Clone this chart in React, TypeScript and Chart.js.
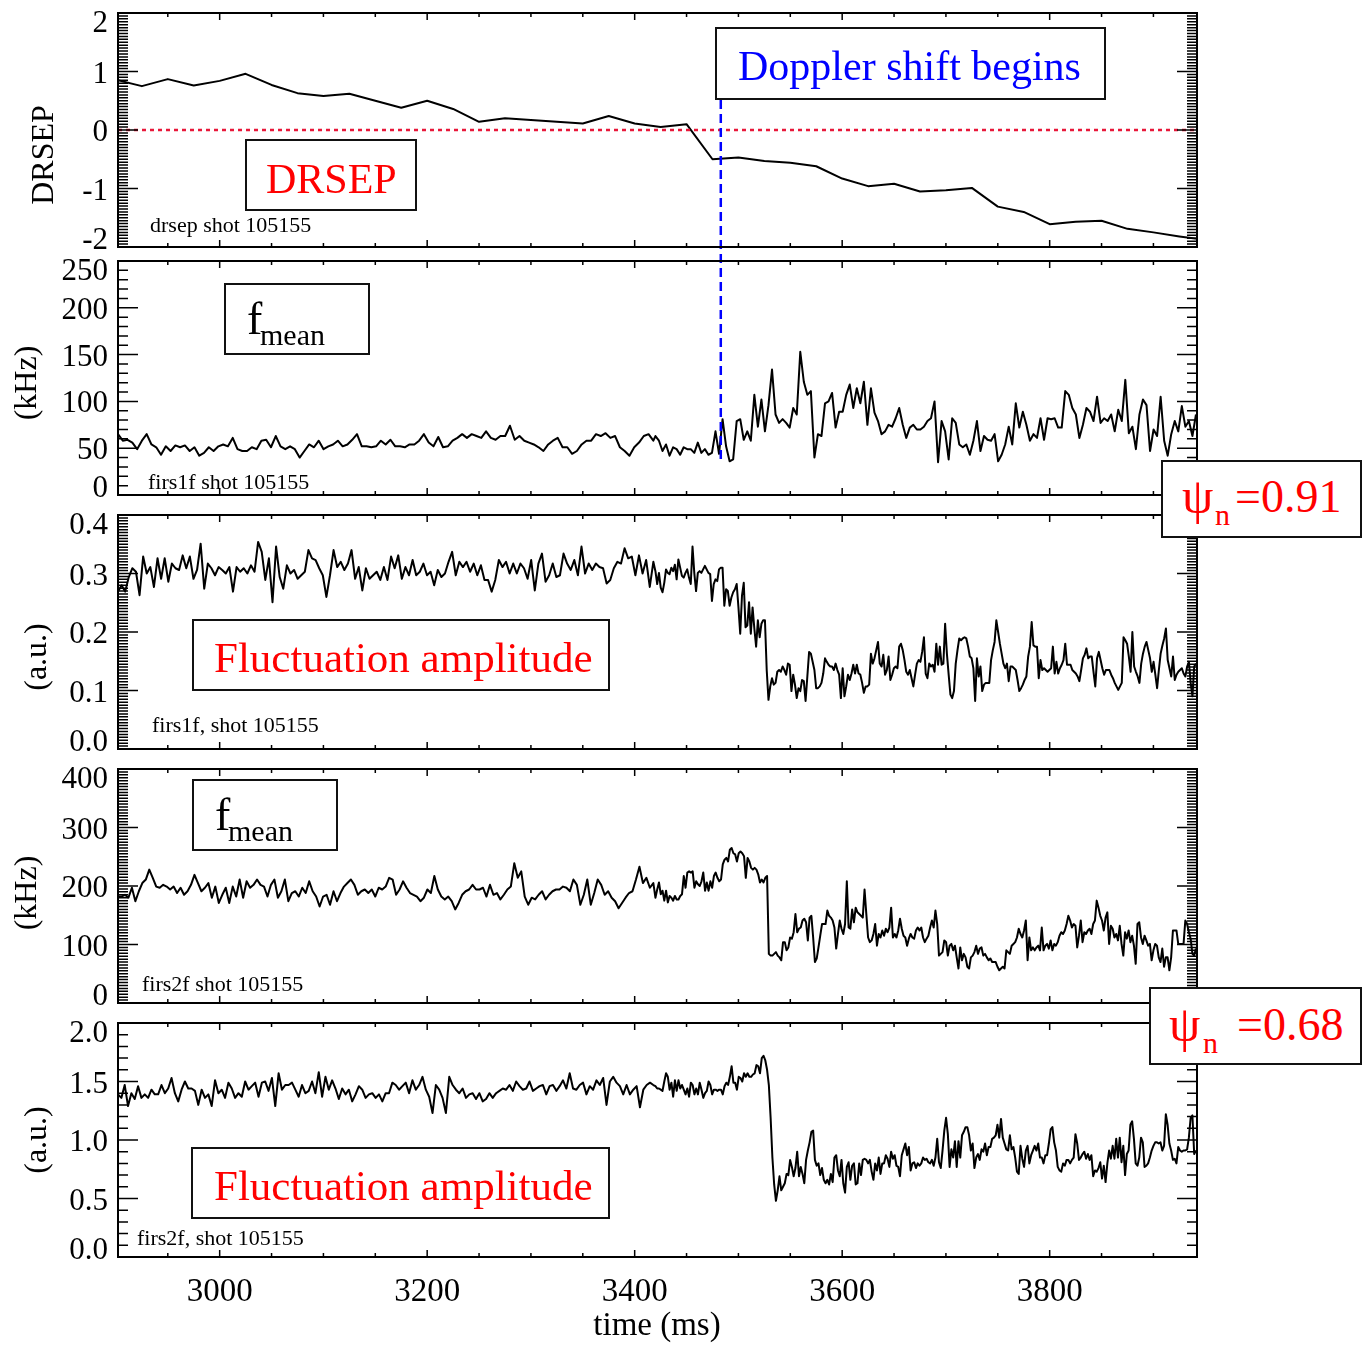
import React, { useEffect, useRef } from 'react';
import { Chart, registerables } from 'chart.js';

Chart.register(...registerables);

const FONT = '"Liberation Serif", "Times New Roman", Times, serif';

// ---- time axis (ms) ----
const TIME_MIN = 2902;
const TIME_MAX = 3942;
const X_MAJOR_TICKS = [3000, 3200, 3400, 3600, 3800];
const X_TICK_LABELS = ['3000', '3200', '3400', '3600', '3800'];
const X_MINOR_STEP = 50;
const X_TITLE = 'time (ms)';
const DOPPLER_TIME = 3483;

// evenly sampled signal segments (ms): before / after 3420 ms
const SEG_BEFORE = [2902, 3418];
const SEG_AFTER = [3420, 3941];

// ---- DRSEP ----
const drsepTime = [2900, 2925, 2950, 2975, 3000, 3025, 3050, 3075, 3100, 3125, 3150, 3175, 3200, 3225, 3250, 3275, 3300, 3325, 3350, 3375, 3400, 3425, 3450, 3475, 3500, 3525, 3550, 3575, 3600, 3625, 3650, 3675, 3700, 3725, 3750, 3775, 3800, 3825, 3850, 3875, 3900, 3925, 3950];
const drsepValue = [0.86, 0.75, 0.87, 0.76, 0.84, 0.96, 0.77, 0.63, 0.58, 0.62, 0.5, 0.38, 0.5, 0.36, 0.14, 0.2, 0.17, 0.14, 0.11, 0.24, 0.11, 0.05, 0.1, -0.5, -0.47, -0.53, -0.56, -0.62, -0.83, -0.96, -0.92, -1.05, -1.03, -0.99, -1.31, -1.4, -1.61, -1.57, -1.55, -1.69, -1.75, -1.82, -1.88];

// ---- firs1f mean frequency (kHz) ----
const firs1fMeanBefore = [65, 58, 59, 56, 49, 58, 65, 54, 51, 43, 52, 47, 53, 51, 53, 47, 51, 42, 45, 51, 47, 52, 54, 52, 61, 49, 47, 47, 51, 49, 58, 59, 51, 63, 52, 49, 52, 49, 40, 47, 54, 51, 58, 49, 52, 54, 58, 52, 54, 59, 65, 52, 52, 51, 52, 58, 54, 59, 52, 52, 51, 54, 54, 58, 65, 56, 52, 62, 51, 52, 58, 61, 65, 61, 65, 63, 61, 68, 61, 59, 63, 63, 74, 59, 63, 58, 56, 54, 51, 47, 54, 58, 61, 51, 51, 44, 47, 54, 58, 58, 65, 63, 66, 61, 63, 51, 47, 42, 51, 56, 63, 65, 58];
const firs1fMeanAfter = [63, 58, 47, 54, 42, 51, 49, 43, 51, 49, 49, 45, 56, 45, 49, 43, 45, 68, 44, 81, 52, 36, 38, 79, 81, 59, 68, 58, 107, 73, 102, 68, 96, 134, 86, 77, 81, 77, 72, 93, 86, 153, 121, 107, 111, 40, 65, 63, 98, 100, 109, 72, 89, 89, 107, 118, 93, 114, 98, 121, 75, 114, 88, 79, 65, 68, 75, 73, 82, 93, 75, 61, 72, 75, 70, 70, 73, 79, 82, 100, 35, 79, 68, 38, 82, 77, 54, 51, 54, 43, 58, 79, 47, 63, 59, 58, 65, 36, 43, 54, 73, 54, 98, 72, 89, 75, 58, 65, 61, 82, 59, 82, 81, 82, 72, 72, 111, 107, 93, 86, 61, 75, 93, 89, 79, 105, 77, 82, 79, 86, 68, 91, 79, 123, 66, 73, 49, 86, 102, 96, 47, 70, 63, 105, 58, 42, 65, 79, 68, 95, 73, 79, 63, 86];

// ---- firs1f fluctuation amplitude (a.u.) ----
const firs1fAmpBefore = [0.269, 0.28, 0.269, 0.294, 0.309, 0.303, 0.263, 0.329, 0.3, 0.311, 0.277, 0.326, 0.291, 0.326, 0.286, 0.317, 0.309, 0.306, 0.331, 0.309, 0.329, 0.291, 0.306, 0.351, 0.274, 0.317, 0.309, 0.297, 0.311, 0.306, 0.3, 0.311, 0.269, 0.311, 0.303, 0.309, 0.3, 0.314, 0.303, 0.354, 0.337, 0.289, 0.326, 0.251, 0.346, 0.294, 0.274, 0.314, 0.3, 0.306, 0.291, 0.297, 0.303, 0.34, 0.326, 0.323, 0.309, 0.297, 0.26, 0.297, 0.34, 0.311, 0.32, 0.306, 0.317, 0.34, 0.291, 0.311, 0.271, 0.309, 0.291, 0.297, 0.303, 0.289, 0.311, 0.289, 0.329, 0.309, 0.331, 0.291, 0.311, 0.297, 0.323, 0.297, 0.303, 0.317, 0.297, 0.303, 0.28, 0.306, 0.294, 0.3, 0.32, 0.337, 0.297, 0.32, 0.311, 0.32, 0.303, 0.317, 0.297, 0.314, 0.289, 0.289, 0.269, 0.289, 0.323, 0.311, 0.32, 0.3, 0.317, 0.3, 0.317, 0.309, 0.291, 0.323, 0.271, 0.317, 0.334, 0.286, 0.297, 0.317, 0.294, 0.297, 0.334, 0.317, 0.306, 0.323, 0.297, 0.346, 0.3, 0.317, 0.306, 0.317, 0.311, 0.309, 0.283, 0.289, 0.309, 0.32, 0.317, 0.343, 0.326, 0.329, 0.297, 0.331, 0.3, 0.323, 0.277, 0.32];
const firs1fAmpAfter = [0.304, 0.282, 0.301, 0.276, 0.268, 0.284, 0.307, 0.301, 0.299, 0.31, 0.304, 0.315, 0.29, 0.324, 0.31, 0.296, 0.293, 0.301, 0.307, 0.293, 0.282, 0.346, 0.301, 0.27, 0.301, 0.304, 0.301, 0.307, 0.313, 0.307, 0.301, 0.299, 0.253, 0.282, 0.29, 0.287, 0.307, 0.31, 0.31, 0.245, 0.273, 0.27, 0.245, 0.259, 0.268, 0.273, 0.282, 0.242, 0.197, 0.262, 0.284, 0.208, 0.211, 0.251, 0.197, 0.242, 0.206, 0.175, 0.22, 0.191, 0.214, 0.22, 0.22, 0.135, 0.084, 0.107, 0.121, 0.11, 0.113, 0.132, 0.135, 0.132, 0.141, 0.135, 0.127, 0.146, 0.144, 0.099, 0.127, 0.11, 0.087, 0.104, 0.099, 0.118, 0.116, 0.082, 0.124, 0.166, 0.163, 0.149, 0.135, 0.104, 0.104, 0.107, 0.113, 0.129, 0.155, 0.149, 0.144, 0.141, 0.141, 0.135, 0.146, 0.135, 0.127, 0.087, 0.138, 0.09, 0.107, 0.127, 0.118, 0.129, 0.144, 0.129, 0.144, 0.129, 0.127, 0.113, 0.096, 0.107, 0.107, 0.11, 0.163, 0.146, 0.155, 0.169, 0.183, 0.146, 0.141, 0.161, 0.127, 0.135, 0.158, 0.118, 0.127, 0.138, 0.141, 0.138, 0.175, 0.18, 0.169, 0.152, 0.132, 0.127, 0.135, 0.121, 0.107, 0.127, 0.146, 0.152, 0.149, 0.166, 0.191, 0.129, 0.121, 0.146, 0.141, 0.144, 0.132, 0.18, 0.144, 0.175, 0.144, 0.146, 0.214, 0.163, 0.127, 0.093, 0.087, 0.099, 0.146, 0.169, 0.189, 0.186, 0.189, 0.191, 0.189, 0.175, 0.158, 0.155, 0.138, 0.082, 0.155, 0.124, 0.141, 0.099, 0.11, 0.113, 0.113, 0.113, 0.152, 0.169, 0.183, 0.22, 0.2, 0.18, 0.163, 0.146, 0.138, 0.146, 0.116, 0.141, 0.141, 0.138, 0.135, 0.118, 0.099, 0.104, 0.11, 0.118, 0.124, 0.158, 0.175, 0.217, 0.177, 0.175, 0.175, 0.121, 0.152, 0.135, 0.138, 0.135, 0.132, 0.135, 0.138, 0.175, 0.129, 0.149, 0.129, 0.138, 0.144, 0.152, 0.18, 0.144, 0.144, 0.144, 0.135, 0.132, 0.129, 0.124, 0.116, 0.135, 0.155, 0.161, 0.172, 0.155, 0.158, 0.158, 0.132, 0.107, 0.155, 0.166, 0.152, 0.138, 0.127, 0.135, 0.135, 0.135, 0.127, 0.121, 0.113, 0.107, 0.101, 0.107, 0.113, 0.191, 0.186, 0.18, 0.158, 0.132, 0.2, 0.141, 0.132, 0.124, 0.113, 0.146, 0.163, 0.175, 0.183, 0.169, 0.155, 0.132, 0.149, 0.127, 0.104, 0.135, 0.163, 0.177, 0.189, 0.206, 0.152, 0.138, 0.124, 0.158, 0.118, 0.127, 0.132, 0.135, 0.138, 0.129, 0.124, 0.141, 0.149, 0.113, 0.09, 0.141, 0.146];

// ---- firs2f mean frequency (kHz) ----
const firs2fMeanBefore = [182, 182, 185, 180, 197, 174, 191, 205, 211, 228, 214, 199, 197, 202, 199, 194, 199, 188, 197, 185, 191, 202, 219, 205, 191, 197, 205, 180, 199, 171, 185, 197, 171, 199, 182, 211, 180, 208, 197, 202, 211, 202, 199, 182, 202, 211, 180, 191, 211, 174, 188, 191, 182, 197, 188, 208, 191, 182, 165, 182, 185, 168, 191, 174, 188, 199, 205, 211, 202, 185, 191, 194, 188, 194, 182, 197, 194, 199, 214, 211, 185, 194, 208, 197, 188, 185, 182, 174, 180, 194, 188, 217, 194, 182, 177, 182, 174, 160, 171, 185, 191, 194, 202, 194, 194, 197, 182, 202, 185, 188, 177, 185, 194, 199, 239, 214, 225, 182, 168, 180, 177, 185, 191, 177, 185, 191, 194, 194, 199, 197, 191, 211, 202, 168, 185, 211, 168, 188, 211, 202, 185, 191, 180, 174, 162, 171, 180, 188, 191, 211, 233, 205, 214, 197, 205];
const firs2fMeanAfter = [180, 194, 206, 186, 192, 175, 192, 172, 183, 180, 175, 183, 177, 177, 183, 186, 217, 197, 223, 225, 223, 225, 197, 208, 203, 200, 208, 223, 192, 206, 192, 208, 197, 217, 223, 214, 208, 211, 237, 245, 248, 242, 262, 265, 256, 254, 242, 256, 259, 256, 251, 214, 248, 242, 231, 228, 231, 228, 220, 206, 211, 206, 214, 217, 84, 81, 81, 84, 87, 81, 78, 73, 104, 104, 90, 95, 112, 110, 121, 152, 121, 127, 129, 141, 144, 138, 107, 146, 149, 112, 70, 76, 95, 115, 135, 135, 135, 158, 149, 146, 141, 129, 93, 118, 141, 127, 118, 135, 208, 129, 127, 160, 138, 163, 155, 152, 149, 146, 194, 152, 112, 104, 107, 118, 135, 98, 118, 112, 124, 115, 127, 121, 129, 163, 112, 118, 112, 124, 144, 127, 115, 112, 98, 110, 118, 112, 110, 124, 129, 124, 129, 112, 104, 110, 115, 129, 141, 129, 158, 135, 81, 84, 87, 107, 104, 81, 98, 101, 90, 98, 78, 59, 95, 73, 84, 78, 62, 59, 78, 81, 87, 98, 84, 93, 95, 81, 84, 78, 73, 76, 70, 70, 70, 62, 56, 59, 62, 59, 90, 87, 84, 98, 101, 104, 112, 127, 118, 112, 124, 141, 73, 112, 90, 95, 90, 95, 98, 90, 129, 90, 98, 101, 93, 107, 90, 101, 98, 104, 115, 121, 118, 124, 135, 149, 141, 129, 135, 132, 95, 115, 141, 104, 121, 118, 124, 127, 118, 135, 141, 175, 163, 149, 141, 124, 146, 155, 101, 132, 127, 112, 118, 107, 132, 101, 81, 121, 110, 124, 104, 115, 98, 67, 135, 138, 112, 101, 115, 107, 98, 101, 73, 90, 101, 98, 78, 70, 93, 62, 78, 78, 56, 78, 124, 124, 124, 101, 101, 101, 101, 141, 135, 121, 110, 84, 81, 93];

// ---- firs2f fluctuation amplitude (a.u.) ----
const firs2fAmpBefore = [1.39, 1.36, 1.47, 1.29, 1.4, 1.35, 1.46, 1.36, 1.39, 1.36, 1.43, 1.39, 1.39, 1.47, 1.4, 1.44, 1.53, 1.4, 1.33, 1.43, 1.5, 1.44, 1.44, 1.42, 1.3, 1.43, 1.36, 1.39, 1.29, 1.51, 1.4, 1.43, 1.36, 1.49, 1.44, 1.36, 1.4, 1.37, 1.5, 1.43, 1.46, 1.49, 1.37, 1.49, 1.5, 1.42, 1.53, 1.29, 1.57, 1.43, 1.47, 1.47, 1.49, 1.43, 1.37, 1.47, 1.4, 1.42, 1.5, 1.4, 1.58, 1.37, 1.54, 1.43, 1.51, 1.44, 1.35, 1.44, 1.39, 1.43, 1.33, 1.39, 1.46, 1.43, 1.36, 1.39, 1.4, 1.36, 1.39, 1.33, 1.4, 1.4, 1.49, 1.47, 1.43, 1.46, 1.49, 1.4, 1.51, 1.43, 1.47, 1.54, 1.43, 1.37, 1.23, 1.47, 1.43, 1.36, 1.23, 1.54, 1.47, 1.43, 1.4, 1.44, 1.36, 1.39, 1.4, 1.35, 1.4, 1.33, 1.35, 1.4, 1.36, 1.4, 1.42, 1.44, 1.43, 1.47, 1.42, 1.5, 1.46, 1.43, 1.44, 1.5, 1.42, 1.44, 1.46, 1.47, 1.39, 1.46, 1.47, 1.42, 1.46, 1.51, 1.44, 1.57, 1.44, 1.43, 1.47, 1.49, 1.39, 1.46, 1.43, 1.51, 1.47, 1.53, 1.3, 1.5, 1.54, 1.49, 1.46, 1.39, 1.47, 1.39, 1.43, 1.46, 1.28, 1.43, 1.47, 1.49, 1.47];
const firs2fAmpAfter = [1.46, 1.44, 1.44, 1.43, 1.42, 1.5, 1.57, 1.54, 1.43, 1.49, 1.37, 1.51, 1.42, 1.51, 1.44, 1.47, 1.43, 1.39, 1.44, 1.37, 1.49, 1.47, 1.39, 1.44, 1.39, 1.49, 1.43, 1.36, 1.4, 1.42, 1.5, 1.47, 1.39, 1.43, 1.43, 1.42, 1.43, 1.43, 1.39, 1.46, 1.49, 1.47, 1.54, 1.63, 1.49, 1.49, 1.43, 1.54, 1.53, 1.5, 1.57, 1.54, 1.57, 1.54, 1.54, 1.56, 1.57, 1.64, 1.63, 1.57, 1.7, 1.72, 1.68, 1.6, 1.47, 1.19, 0.85, 0.62, 0.48, 0.57, 0.69, 0.57, 0.6, 0.63, 0.71, 0.7, 0.83, 0.77, 0.69, 0.76, 0.9, 0.69, 0.77, 0.71, 0.63, 0.83, 0.91, 0.98, 1.07, 1.08, 0.83, 0.78, 0.8, 0.7, 0.76, 0.66, 0.63, 0.66, 0.62, 0.71, 0.64, 0.85, 0.87, 0.74, 0.69, 0.83, 0.63, 0.55, 0.77, 0.81, 0.66, 0.78, 0.8, 0.62, 0.63, 0.8, 0.7, 0.83, 0.84, 0.83, 0.8, 0.83, 0.73, 0.66, 0.8, 0.74, 0.85, 0.71, 0.8, 0.8, 0.87, 0.84, 0.77, 0.9, 0.84, 0.87, 0.78, 0.77, 0.69, 0.87, 0.92, 0.97, 0.87, 0.94, 0.74, 0.8, 0.81, 0.76, 0.8, 0.78, 0.8, 0.85, 0.83, 0.84, 0.81, 0.8, 0.83, 0.78, 0.85, 1.01, 0.81, 0.76, 0.91, 1.08, 1.19, 1.05, 0.77, 0.92, 0.85, 0.99, 0.77, 0.99, 0.85, 1.04, 1.07, 1.11, 1.11, 1.04, 0.91, 0.97, 0.76, 0.85, 0.88, 0.83, 0.92, 0.9, 0.97, 0.87, 0.94, 0.94, 1.01, 1.02, 1.04, 1.13, 1.02, 1.18, 1.02, 0.97, 0.92, 0.91, 1.04, 0.92, 0.94, 0.85, 0.73, 0.71, 0.95, 0.84, 0.77, 0.91, 0.95, 0.8, 0.87, 0.91, 0.95, 0.91, 0.97, 0.85, 0.85, 0.8, 0.87, 0.87, 0.97, 1.09, 1.11, 0.98, 0.91, 0.77, 0.74, 0.73, 0.8, 0.78, 0.83, 0.83, 0.8, 0.83, 0.85, 1.05, 0.97, 0.83, 0.85, 0.88, 0.9, 0.84, 0.88, 0.83, 0.87, 0.69, 0.74, 0.73, 0.76, 0.81, 0.67, 0.78, 0.64, 0.8, 0.91, 0.84, 0.95, 0.84, 1.01, 0.85, 1.02, 0.81, 0.95, 0.7, 0.88, 0.91, 1.13, 1.16, 1.01, 0.8, 0.78, 0.85, 1.02, 0.98, 0.77, 0.78, 0.8, 0.85, 0.91, 0.95, 0.98, 0.98, 0.97, 0.98, 0.91, 0.95, 1.22, 1.13, 0.97, 0.91, 0.83, 0.84, 0.8, 0.94, 0.91, 0.9, 0.91, 0.91, 0.92, 1.02, 1.19, 1.21, 0.88, 0.91];

type Pt = { x: number; y: number };

function spread(values: number[], t0: number, t1: number): Pt[] {
  const n = values.length;
  return values.map((v, i) => ({ x: t0 + ((t1 - t0) * i) / (n - 1), y: v }));
}
function joinSegments(before: number[], after: number[]): Pt[] {
  return [...spread(before, SEG_BEFORE[0], SEG_BEFORE[1]), ...spread(after, SEG_AFTER[0], SEG_AFTER[1])];
}

type PanelDef = {
  key: string;
  canvasTop: number;
  canvasHeight: number;
  plotTop: number;
  plotBottom: number;
  yMin: number;
  yMax: number;
  majorStep: number;
  minorStep: number;
  labels: string[];
  title: string;
  titleX: number;
  titleY: number;
  note: string;
  noteX: number;
  noteY: number;
  points: Pt[];
  zeroLine?: boolean;
  dopplerFromPageY?: number;
  dopplerToValue?: number;
  showXLabels?: boolean;
};

const PANELS: PanelDef[] = [
  {
    key: 'drsep', canvasTop: 0, canvasHeight: 254, plotTop: 13, plotBottom: 247,
    yMin: -2, yMax: 2, majorStep: 1, minorStep: 0.05, labels: ['-2', '-1', '0', '1', '2'],
    title: 'DRSEP', titleX: 42, titleY: 155,
    note: 'drsep shot 105155', noteX: 150, noteY: 232,
    points: drsepTime.map((t, i) => ({ x: t, y: drsepValue[i] })),
    zeroLine: true, dopplerFromPageY: 100,
  },
  {
    key: 'f1mean', canvasTop: 254, canvasHeight: 251, plotTop: 261, plotBottom: 495,
    yMin: 0, yMax: 250, majorStep: 50, minorStep: 10, labels: ['0', '50', '100', '150', '200', '250'],
    title: '(kHz)', titleX: 25, titleY: 383,
    note: 'firs1f shot 105155', noteX: 148, noteY: 489,
    points: joinSegments(firs1fMeanBefore, firs1fMeanAfter),
    dopplerToValue: 35,
  },
  {
    key: 'f1amp', canvasTop: 505, canvasHeight: 254, plotTop: 515, plotBottom: 749,
    yMin: 0, yMax: 0.4, majorStep: 0.1, minorStep: 0.005, labels: ['0.0', '0.1', '0.2', '0.3', '0.4'],
    title: '(a.u.)', titleX: 35, titleY: 657,
    note: 'firs1f, shot 105155', noteX: 152, noteY: 732,
    points: joinSegments(firs1fAmpBefore, firs1fAmpAfter),
  },
  {
    key: 'f2mean', canvasTop: 759, canvasHeight: 254, plotTop: 769, plotBottom: 1003,
    yMin: 0, yMax: 400, majorStep: 100, minorStep: 5, labels: ['0', '100', '200', '300', '400'],
    title: '(kHz)', titleX: 25, titleY: 893,
    note: 'firs2f shot 105155', noteX: 142, noteY: 991,
    points: joinSegments(firs2fMeanBefore, firs2fMeanAfter),
  },
  {
    key: 'f2amp', canvasTop: 1013, canvasHeight: 332, plotTop: 1023, plotBottom: 1257,
    yMin: 0, yMax: 2, majorStep: 0.5, minorStep: 0.1, labels: ['0.0', '0.5', '1.0', '1.5', '2.0'],
    title: '(a.u.)', titleX: 35, titleY: 1140,
    note: 'firs2f, shot 105155', noteX: 137, noteY: 1245,
    points: joinSegments(firs2fAmpBefore, firs2fAmpAfter),
    showXLabels: true,
  },
];

function makeFramePlugin(p: PanelDef) {
  return {
    id: 'idlFrame_' + p.key,
    afterDatasetsDraw(chart: any) {
      const { ctx, chartArea } = chart;
      const { left, right, top, bottom } = chartArea;
      const xs = chart.scales.x;
      const ys = chart.scales.y;
      const off = p.canvasTop;
      ctx.save();

      if (p.zeroLine) {
        const py = ys.getPixelForValue(0);
        ctx.strokeStyle = '#e8183a';
        ctx.lineWidth = 2.5;
        ctx.setLineDash([4, 4]);
        ctx.beginPath();
        ctx.moveTo(left, py);
        ctx.lineTo(right, py);
        ctx.stroke();
        ctx.setLineDash([]);
      }
      if (p.dopplerFromPageY !== undefined || p.dopplerToValue !== undefined) {
        const px = xs.getPixelForValue(DOPPLER_TIME);
        const y0 = p.dopplerFromPageY !== undefined ? p.dopplerFromPageY - off : 0;
        const y1 = p.dopplerToValue !== undefined ? ys.getPixelForValue(p.dopplerToValue) : p.canvasHeight;
        ctx.strokeStyle = '#0000ff';
        ctx.lineWidth = 2.5;
        ctx.setLineDash([9, 5]);
        ctx.beginPath();
        ctx.moveTo(px, y0);
        ctx.lineTo(px, y1);
        ctx.stroke();
        ctx.setLineDash([]);
      }

      // frame
      ctx.strokeStyle = '#000';
      ctx.lineWidth = 2;
      ctx.strokeRect(left, top, right - left, bottom - top);

      // y ticks (both sides)
      ctx.lineWidth = 1.5;
      ctx.beginPath();
      const nMinor = Math.round((p.yMax - p.yMin) / p.minorStep);
      const perMajor = Math.round(p.majorStep / p.minorStep);
      for (let i = 0; i <= nMinor; i++) {
        const v = p.yMin + i * p.minorStep;
        const py = ys.getPixelForValue(v);
        const len = i % perMajor === 0 ? 20 : 10;
        ctx.moveTo(left, py);
        ctx.lineTo(left + len, py);
        ctx.moveTo(right, py);
        ctx.lineTo(right - len, py);
      }
      // x ticks (top and bottom)
      for (let t = Math.ceil(TIME_MIN / X_MINOR_STEP) * X_MINOR_STEP; t <= TIME_MAX; t += X_MINOR_STEP) {
        const px = xs.getPixelForValue(t);
        const len = X_MAJOR_TICKS.includes(t) ? 7 : 4;
        ctx.moveTo(px, bottom);
        ctx.lineTo(px, bottom - len);
        ctx.moveTo(px, top);
        ctx.lineTo(px, top + len);
      }
      ctx.stroke();

      // y tick labels
      ctx.fillStyle = '#000';
      ctx.font = '31px ' + FONT;
      ctx.textAlign = 'right';
      ctx.textBaseline = 'alphabetic';
      p.labels.forEach((lab, i) => {
        const v = p.yMin + i * p.majorStep;
        let py = ys.getPixelForValue(v);
        if (i === 0) py -= 9;
        if (i === p.labels.length - 1) py += 8;
        ctx.fillText(lab, left - 10, py + 11);
      });

      // axis title (rotated)
      ctx.font = '32px ' + FONT;
      ctx.textAlign = 'center';
      ctx.save();
      ctx.translate(p.titleX + 11, p.titleY - off);
      ctx.rotate(-Math.PI / 2);
      ctx.fillText(p.title, 0, 0);
      ctx.restore();

      // shot note
      ctx.font = '22px ' + FONT;
      ctx.textAlign = 'left';
      ctx.fillText(p.note, p.noteX, p.noteY - off);

      if (p.showXLabels) {
        ctx.font = '33px ' + FONT;
        ctx.textAlign = 'center';
        X_MAJOR_TICKS.forEach((t, i) => {
          ctx.fillText(X_TICK_LABELS[i], xs.getPixelForValue(t), bottom + 44);
        });
        ctx.fillText(X_TITLE, 657, 1335 - off);
      }
      ctx.restore();
    },
  };
}

function Panel({ def }: { def: PanelDef }) {
  const ref = useRef<HTMLCanvasElement>(null);
  useEffect(() => {
    const canvas = ref.current;
    if (!canvas) return;
    const chart = new Chart(canvas, {
      type: 'line',
      data: {
        datasets: [
          {
            data: def.points,
            borderColor: '#000',
            borderWidth: 2,
            pointRadius: 0,
            tension: 0,
            borderJoinStyle: 'round',
            fill: false,
          },
        ],
      },
      options: {
        responsive: false,
        animation: false,
        devicePixelRatio: 1,
        events: [],
        layout: {
          padding: {
            left: 118,
            right: 1366 - 1197,
            top: def.plotTop - def.canvasTop,
            bottom: def.canvasTop + def.canvasHeight - def.plotBottom,
          },
        },
        scales: {
          x: { type: 'linear', min: TIME_MIN, max: TIME_MAX, display: false },
          y: { type: 'linear', min: def.yMin, max: def.yMax, display: false },
        },
        plugins: { legend: { display: false }, tooltip: { enabled: false } },
      },
      plugins: [makeFramePlugin(def)],
    } as any);
    return () => chart.destroy();
  }, [def]);
  return (
    <canvas
      ref={ref}
      width={1366}
      height={def.canvasHeight}
      style={{ position: 'absolute', left: 0, top: def.canvasTop, width: 1366, height: def.canvasHeight }}
    />
  );
}

type BoxProps = { left: number; top: number; width: number; height: number; white?: boolean; children?: React.ReactNode };
function Box({ left, top, width, height, white, children }: BoxProps) {
  return (
    <div
      style={{
        position: 'absolute', left, top, width, height, boxSizing: 'border-box',
        border: '2px solid #111', background: white ? '#fff' : 'transparent', fontFamily: FONT, whiteSpace: 'nowrap',
      }}
    >
      {children}
    </div>
  );
}
function T({ left, top, size, color, children }: { left: number; top: number; size: number; color: string; children: React.ReactNode }) {
  return (
    <span style={{ position: 'absolute', left, top, fontSize: size, lineHeight: size + 'px', color, fontFamily: FONT }}>
      {children}
    </span>
  );
}

export default function App() {
  return (
    <div style={{ position: 'absolute', left: 0, top: 0, width: 1366, height: 1345, background: '#fff', overflow: 'hidden' }}>
      {PANELS.map((p) => (
        <Panel key={p.key} def={p} />
      ))}
      <Box left={715} top={27} width={391} height={73}>
        <T left={21} top={16} size={42} color="#0000ff">Doppler shift begins</T>
      </Box>
      <Box left={245} top={139} width={172} height={72}>
        <T left={19} top={17} size={42} color="#ff0000">DRSEP</T>
      </Box>
      <Box left={224} top={283} width={146} height={72}>
        <T left={21} top={11} size={46} color="#000">f</T>
        <T left={34} top={35} size={30} color="#000">mean</T>
      </Box>
      <Box left={192} top={619} width={418} height={72}>
        <T left={20} top={15} size={43} color="#ff0000">Fluctuation amplitude</T>
      </Box>
      <Box left={192} top={779} width={146} height={72}>
        <T left={21} top={11} size={46} color="#000">f</T>
        <T left={34} top={35} size={30} color="#000">mean</T>
      </Box>
      <Box left={191} top={1147} width={419} height={72}>
        <T left={21} top={15} size={43} color="#ff0000">Fluctuation amplitude</T>
      </Box>
      <Box left={1161} top={460} width={201} height={78} white>
        <T left={19} top={9} size={50} color="#ff0000">ψ</T>
        <T left={52} top={38} size={30} color="#ff0000">n</T>
        <T left={72} top={12} size={46} color="#ff0000">=0.91</T>
      </Box>
      <Box left={1149} top={987} width={213} height={78} white>
        <T left={18} top={10} size={50} color="#ff0000">ψ</T>
        <T left={52} top={39} size={30} color="#ff0000">n</T>
        <T left={86} top={13} size={46} color="#ff0000">=0.68</T>
      </Box>
    </div>
  );
}
